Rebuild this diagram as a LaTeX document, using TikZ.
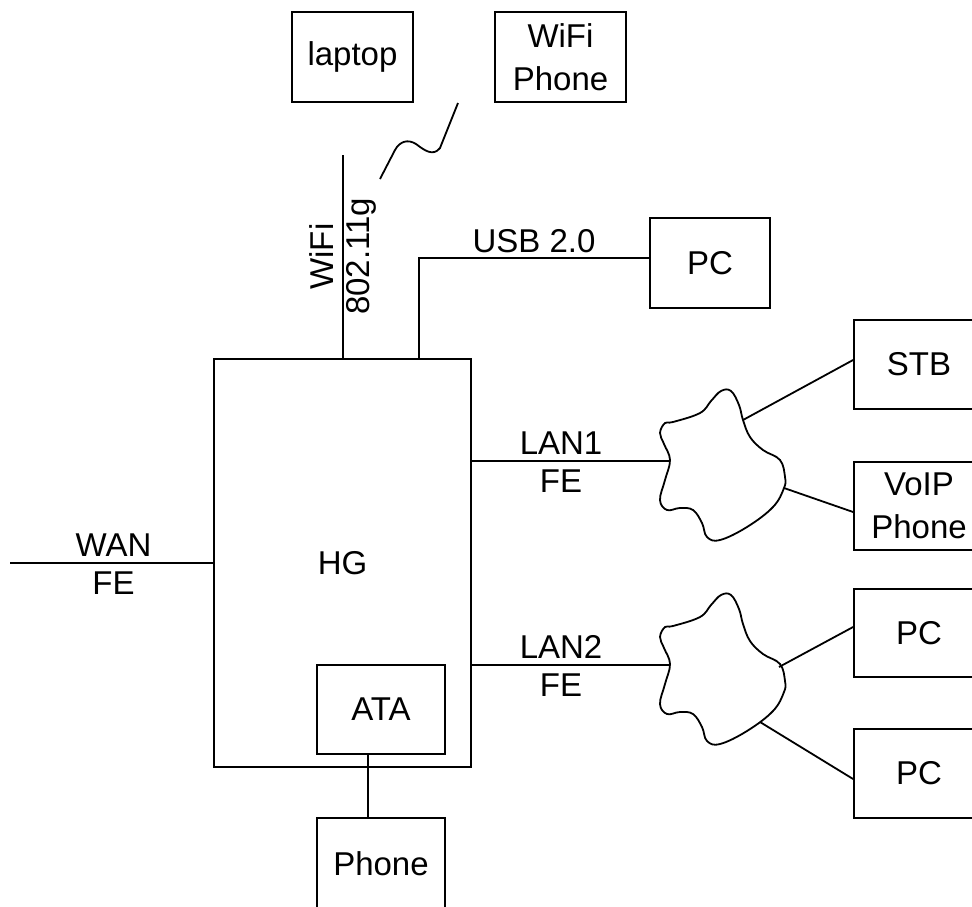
\documentclass[tikz,border=0pt]{standalone}
\usepackage{fontspec}
\setmainfont{Liberation Sans}
\begin{document}
\begin{tikzpicture}[x=1pt,y=-1pt,line width=1.8pt,
  every node/.style={font=\fontsize{33}{43}\selectfont},
  box/.style={draw,rectangle,align=center,inner sep=0pt},
  lbl/.style={inner sep=6pt}]
\useasboundingbox (0,0) rectangle (972,906);
\clip (0,0) rectangle (972,906);
% boxes
\node[box,minimum width=121pt,minimum height=90pt] (laptop) at (352.5,57) {laptop};
\node[box,minimum width=131pt,minimum height=90pt] (wifiphone) at (560.5,57) {WiFi\\Phone};
\node[box,minimum width=120pt,minimum height=90pt] (pcusb) at (710,263) {PC};
\node[box,minimum width=257pt,minimum height=408pt] (HG) at (342.5,563) {HG};
\node[box,minimum width=128pt,minimum height=89pt] (ATA) at (381,709.5) {ATA};
\node[box,minimum width=128pt,minimum height=92pt] (phone) at (381,864) {Phone};
\node[box,minimum width=130pt,minimum height=89pt] (STB) at (919,364.5) {STB};
\node[box,minimum width=130pt,minimum height=88pt] (voip) at (919,506) {VoIP\\Phone};
\node[box,minimum width=130pt,minimum height=88pt] (pc1) at (919,633) {PC};
\node[box,minimum width=130pt,minimum height=89pt] (pc2) at (919,773.5) {PC};
% clouds
\foreach \dy in {0,204}{
\draw[shift={(0,\dy)}] plot[smooth cycle,tension=0.65] coordinates {
 (670,460) (664,444) (660,433) (665,423) (673,422) (700,413) (711,401) (721,391)
 (731,391) (739,405) (743,420) (750,437) (763,450) (780,460) (785,477) (784,488)
 (773,507) (747,527) (720,540) (707,537) (702,523) (693,510) (680,508) (667,510)
 (660,500) (665,480)};
}
\coordinate (c1l) at (670,461);
\coordinate (c1a) at (743,420);
\coordinate (c1b) at (784,488);
\coordinate (c2l) at (670,665);
\coordinate (c2a) at (779,667);
\coordinate (c2b) at (760,722);
\coordinate (wan) at (10,563);
\coordinate (wifitop) at (343,155);
% connectors
\draw (wan) -- node[lbl,above,pos=0.51]{WAN} node[lbl,below,pos=0.51,inner sep=8pt]{FE} (HG.west);
\draw (wifitop |- HG.north) -- node[rotate=90,anchor=south,inner sep=9pt]{WiFi}
      node[rotate=90,anchor=north,inner sep=3pt,pos=0.5]{802.11g} (wifitop);
\draw ([xshift=76.5pt]HG.north) |- node[pos=0.75,above,inner sep=4pt]{USB 2.0} ([yshift=5pt]pcusb.west);
\draw (HG.east |- c1l) -- node[lbl,above,pos=0.45]{LAN1} node[lbl,below,pos=0.45,inner sep=8pt]{FE} (c1l);
\draw (HG.east |- c2l) -- node[lbl,above,pos=0.45]{LAN2} node[lbl,below,pos=0.45,inner sep=8pt]{FE} (c2l);
\draw ([xshift=-13pt]ATA.south) -- ([xshift=-13pt]phone.north);
\draw (c1a) -- ([yshift=4.5pt]STB.west);
\draw (c1b) -- ([yshift=-6pt]voip.west);
\draw (c2a) -- ([yshift=6pt]pc1.west);
\draw (c2b) -- ([yshift=-5.5pt]pc2.west);
% wireless symbol
\draw (380,179) -- (395,150) .. controls (400,141) and (408,139) .. (416,144)
      .. controls (424,150) and (433,157) .. (440,148) -- (458,103);
\end{tikzpicture}
\end{document}
